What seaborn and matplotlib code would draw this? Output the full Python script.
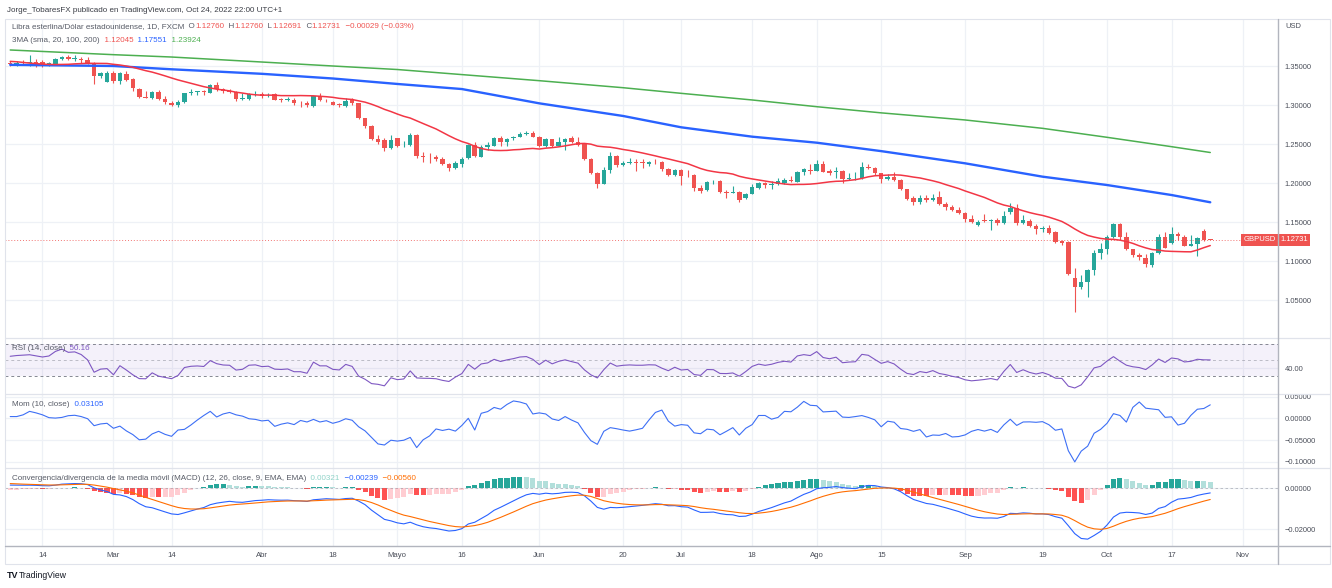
import numpy as np
import pandas as pd
import seaborn as sns
import matplotlib.pyplot as plt
from matplotlib.lines import Line2D
from matplotlib.patches import Rectangle
from matplotlib.text import Annotation

# GBPUSD, 1D, FXCM - one bar per weekday, first bar Feb 7 2022, last bar Oct 25 2022
first_day = "2022-02-07"

# closes before the visible window (Dec 20 2021 - Feb 4 2022), only to warm up the indicators
warmup_close = [
    1.3215, 1.3245, 1.3275, 1.3400, 1.3405,
    1.3435, 1.3445, 1.3495, 1.3505, 1.3530,
    1.3480, 1.3535, 1.3545, 1.3545, 1.3590,
    1.3595, 1.3635, 1.3710, 1.3715, 1.3675,
    1.3645, 1.3610, 1.3620, 1.3595, 1.3550,
    1.3485, 1.3495, 1.3460, 1.3385, 1.3410,
    1.3445, 1.3520, 1.3580, 1.3595, 1.3530,
]

# one row per week (Mon..Fri)
open_px = [
    1.3540, 1.3525, 1.3545, 1.3540, 1.3555,  # Feb 7
    1.3545, 1.3525, 1.3530, 1.3585, 1.3620,  # Feb 14
    1.3590, 1.3590, 1.3575, 1.3530, 1.3375,  # Feb 21
    1.3300, 1.3410, 1.3305, 1.3400, 1.3330,  # Feb 28
    1.3200, 1.3100, 1.3090, 1.3170, 1.3075,  # Mar 7
    1.3030, 1.2995, 1.3035, 1.3150, 1.3165,  # Mar 14
    1.3175, 1.3160, 1.3255, 1.3200, 1.3180,  # Mar 21
    1.3170, 1.3075, 1.3080, 1.3140, 1.3140,  # Mar 28
    1.3115, 1.3145, 1.3070, 1.3065, 1.3070,  # Apr 4
    1.3030, 1.3030, 1.2985, 1.3115, 1.3065,  # Apr 11
    1.3045, 1.3010, 1.2990, 1.3075, 1.3020,  # Apr 18
    1.2835, 1.2730, 1.2560, 1.2550, 1.2445,  # Apr 25
    1.2575, 1.2485, 1.2490, 1.2615, 1.2345,  # May 2
    1.2340, 1.2330, 1.2310, 1.2245, 1.2195,  # May 9
    1.2245, 1.2320, 1.2490, 1.2340, 1.2460,  # May 16
    1.2475, 1.2580, 1.2525, 1.2575, 1.2595,  # May 23
    1.2635, 1.2637, 1.2595, 1.2470, 1.2565,  # May 30
    1.2475, 1.2525, 1.2575, 1.2530, 1.2500,  # Jun 6
    1.2310, 1.2130, 1.1990, 1.2170, 1.2350,  # Jun 13
    1.2235, 1.2255, 1.2270, 1.2265, 1.2245,  # Jun 20
    1.2275, 1.2265, 1.2180, 1.2105, 1.2170,  # Jun 27
    1.2105, 1.2105, 1.1935, 1.1910, 1.2000,  # Jul 4
    1.2030, 1.1885, 1.1880, 1.1890, 1.1805,  # Jul 11
    1.1860, 1.1942, 1.2000, 1.1970, 1.1985,  # Jul 18
    1.2000, 1.2045, 1.2018, 1.2147, 1.2170,  # Jul 25
    1.2160, 1.2245, 1.2160, 1.2140, 1.2155,  # Aug 1
    1.2055, 1.2065, 1.2062, 1.2210, 1.2195,  # Aug 8
    1.2125, 1.2050, 1.2085, 1.2035, 1.1920,  # Aug 15
    1.1810, 1.1765, 1.1810, 1.1780, 1.1827,  # Aug 22
    1.1730, 1.1700, 1.1650, 1.1614, 1.1537,  # Aug 29
    1.1464, 1.1525, 1.1515, 1.1525, 1.1495,  # Sep 5
    1.1627, 1.1678, 1.1485, 1.1520, 1.1455,  # Sep 12
    1.1417, 1.1430, 1.1380, 1.1255, 1.1250,  # Sep 19
    1.0790, 1.0674, 1.0730, 1.0888, 1.1110,  # Sep 26
    1.1153, 1.1315, 1.1473, 1.1315, 1.1153,  # Oct 3
    1.1080, 1.1046, 1.0952, 1.1102, 1.1307,  # Oct 10
    1.1230, 1.1349, 1.1315, 1.1200, 1.1222,  # Oct 17
    1.1391, 1.12760,                         # Oct 24
]
high_px = [
    1.3560, 1.3560, 1.3575, 1.3640, 1.3590,
    1.3575, 1.3545, 1.3600, 1.3625, 1.3645,
    1.3645, 1.3610, 1.3610, 1.3545, 1.3425,
    1.3440, 1.3440, 1.3425, 1.3435, 1.3345,
    1.3215, 1.3185, 1.3185, 1.3190, 1.3115,
    1.3055, 1.3060, 1.3160, 1.3210, 1.3185,
    1.3195, 1.3265, 1.3295, 1.3220, 1.3200,
    1.3180, 1.3150, 1.3150, 1.3175, 1.3165,
    1.3150, 1.3155, 1.3085, 1.3100, 1.3085,
    1.3055, 1.3055, 1.3120, 1.3150, 1.3080,
    1.3050, 1.3030, 1.3090, 1.3090, 1.3030,
    1.2840, 1.2745, 1.2620, 1.2580, 1.2615,
    1.2580, 1.2540, 1.2640, 1.2635, 1.2405,
    1.2380, 1.2365, 1.2335, 1.2260, 1.2285,
    1.2335, 1.2500, 1.2525, 1.2485, 1.2525,
    1.2595, 1.2600, 1.2580, 1.2610, 1.2655,
    1.2665, 1.2665, 1.2600, 1.2580, 1.2570,
    1.2590, 1.2580, 1.2600, 1.2585, 1.2505,
    1.2320, 1.2140, 1.2205, 1.2405, 1.2365,
    1.2290, 1.2325, 1.2315, 1.2310, 1.2290,
    1.2310, 1.2290, 1.2190, 1.2180, 1.2180,
    1.2165, 1.2115, 1.1970, 1.2030, 1.2045,
    1.2035, 1.1915, 1.1965, 1.1895, 1.1875,
    1.1990, 1.2020, 1.2015, 1.2025, 1.2065,
    1.2065, 1.2095, 1.2160, 1.2190, 1.2245,
    1.2295, 1.2290, 1.2180, 1.2205, 1.2165,
    1.2125, 1.2145, 1.2275, 1.2250, 1.2205,
    1.2130, 1.2115, 1.2145, 1.2055, 1.1925,
    1.1830, 1.1845, 1.1845, 1.1855, 1.1900,
    1.1760, 1.1720, 1.1690, 1.1625, 1.1590,
    1.1530, 1.1610, 1.1540, 1.1560, 1.1645,
    1.1740, 1.1738, 1.1590, 1.1545, 1.1475,
    1.1450, 1.1460, 1.1385, 1.1275, 1.1255,
    1.0915, 1.0825, 1.0895, 1.1140, 1.1235,
    1.1330, 1.1495, 1.1490, 1.1370, 1.1160,
    1.1110, 1.1090, 1.1120, 1.1345, 1.1380,
    1.1440, 1.1380, 1.1335, 1.1335, 1.1305,
    1.1410, 1.12760,
]
low_px = [
    1.3500, 1.3500, 1.3520, 1.3505, 1.3490,
    1.3490, 1.3500, 1.3515, 1.3575, 1.3580,
    1.3565, 1.3540, 1.3520, 1.3275, 1.3350,
    1.3290, 1.3280, 1.3275, 1.3310, 1.3185,
    1.3085, 1.3085, 1.3080, 1.3060, 1.3010,
    1.2985, 1.2980, 1.3020, 1.3125, 1.3135,
    1.3130, 1.3150, 1.3185, 1.3160, 1.3155,
    1.3050, 1.3070, 1.3070, 1.3120, 1.3095,
    1.3100, 1.3060, 1.3045, 1.3050, 1.3005,
    1.2980, 1.2975, 1.2975, 1.3050, 1.3040,
    1.2995, 1.2970, 1.2980, 1.3005, 1.2825,
    1.2705, 1.2555, 1.2505, 1.2410, 1.2440,
    1.2460, 1.2460, 1.2475, 1.2325, 1.2275,
    1.2260, 1.2290, 1.2230, 1.2155, 1.2185,
    1.2210, 1.2305, 1.2335, 1.2330, 1.2420,
    1.2470, 1.2470, 1.2480, 1.2550, 1.2590,
    1.2620, 1.2585, 1.2460, 1.2460, 1.2465,
    1.2470, 1.2430, 1.2510, 1.2480, 1.2300,
    1.2120, 1.1935, 1.1985, 1.2125, 1.2210,
    1.2215, 1.2240, 1.2160, 1.2200, 1.2225,
    1.2245, 1.2160, 1.2095, 1.2090, 1.1975,
    1.2085, 1.1900, 1.1875, 1.1905, 1.1990,
    1.1870, 1.1810, 1.1875, 1.1760, 1.1800,
    1.1855, 1.1930, 1.1935, 1.1920, 1.1975,
    1.1990, 1.2010, 1.2010, 1.2110, 1.2120,
    1.2155, 1.2140, 1.2110, 1.2065, 1.2005,
    1.2040, 1.2040, 1.2055, 1.2180, 1.2110,
    1.2005, 1.2040, 1.2030, 1.1915, 1.1785,
    1.1715, 1.1735, 1.1765, 1.1775, 1.1725,
    1.1650, 1.1645, 1.1600, 1.1500, 1.1490,
    1.1445, 1.1500, 1.1405, 1.1460, 1.1480,
    1.1600, 1.1470, 1.1480, 1.1440, 1.1350,
    1.1380, 1.1355, 1.1235, 1.1210, 1.0830,
    1.0350, 1.0650, 1.0540, 1.0830, 1.1025,
    1.1090, 1.1300, 1.1275, 1.1145, 1.1055,
    1.1020, 1.0925, 1.0925, 1.1095, 1.1165,
    1.1225, 1.1275, 1.1195, 1.1195, 1.1065,
    1.1258, 1.12691,
]
close_px = [
    1.3525, 1.3535, 1.3540, 1.3545, 1.3535,
    1.3525, 1.3535, 1.3585, 1.3615, 1.3590,
    1.3595, 1.3575, 1.3530, 1.3375, 1.3405,
    1.3410, 1.3305, 1.3405, 1.3325, 1.3215,
    1.3100, 1.3095, 1.3170, 1.3075, 1.3035,
    1.2995, 1.3035, 1.3150, 1.3170, 1.3175,
    1.3165, 1.3255, 1.3200, 1.3175, 1.3170,
    1.3075, 1.3085, 1.3140, 1.3145, 1.3115,
    1.3120, 1.3070, 1.3065, 1.3070, 1.3025,
    1.3025, 1.3000, 1.3115, 1.3060, 1.3060,
    1.3005, 1.2995, 1.3055, 1.3025, 1.2830,
    1.2735, 1.2560, 1.2525, 1.2445, 1.2555,
    1.2480, 1.2490, 1.2615, 1.2350, 1.2335,
    1.2330, 1.2315, 1.2245, 1.2195, 1.2260,
    1.2315, 1.2490, 1.2345, 1.2465, 1.2490,
    1.2580, 1.2525, 1.2565, 1.2595, 1.2635,
    1.2645, 1.2590, 1.2470, 1.2565, 1.2475,
    1.2530, 1.2565, 1.2525, 1.2490, 1.2310,
    1.2130, 1.1990, 1.2170, 1.2350, 1.2235,
    1.2260, 1.2270, 1.2260, 1.2260, 1.2270,
    1.2265, 1.2180, 1.2105, 1.2170, 1.2090,
    1.2100, 1.1935, 1.1905, 1.2010, 1.2005,
    1.1885, 1.1880, 1.1890, 1.1785, 1.1860,
    1.1955, 1.2000, 1.1970, 1.1990, 1.2025,
    1.2045, 1.2030, 1.2147, 1.2175, 1.2160,
    1.2245, 1.2147, 1.2125, 1.2155, 1.2053,
    1.2065, 1.2070, 1.2210, 1.2195, 1.2125,
    1.2050, 1.2080, 1.2035, 1.1920, 1.1800,
    1.1765, 1.1810, 1.1780, 1.1810, 1.1733,
    1.1700, 1.1650, 1.1615, 1.1537, 1.1500,
    1.1507, 1.1515, 1.1525, 1.1485, 1.1580,
    1.1678, 1.1486, 1.1530, 1.1455, 1.1408,
    1.1430, 1.1366, 1.1250, 1.1240, 1.0833,
    1.0674, 1.0730, 1.0888, 1.1110, 1.1153,
    1.1315, 1.1473, 1.1315, 1.1153, 1.1085,
    1.1050, 1.0963, 1.1102, 1.1307, 1.1175,
    1.1349, 1.1317, 1.1200, 1.1222, 1.1294,
    1.1276, 1.12731,
]

# SMA 100 / SMA 200 (they need a year of history before the window)
ma_dates = ["2022-02-07", "2022-03-01", "2022-03-14", "2022-04-01", "2022-04-18",
            "2022-05-02", "2022-05-16", "2022-06-01", "2022-06-20", "2022-07-01",
            "2022-07-18", "2022-08-01", "2022-08-15", "2022-09-01", "2022-09-19",
            "2022-10-03", "2022-10-17", "2022-10-25"]
sma100_read = [1.3515, 1.3500, 1.3458, 1.3400, 1.3340, 1.3270, 1.3205, 1.3022, 1.2860,
               1.2715, 1.2595, 1.2518, 1.2410, 1.2254, 1.2083, 1.1976, 1.1848, 1.17551]
sma200_read = [1.3705, 1.3645, 1.3615, 1.3551, 1.3500, 1.3455, 1.3390, 1.3312, 1.3222,
               1.3150, 1.3065, 1.2979, 1.2900, 1.2809, 1.2702, 1.2587, 1.2467, 1.23924]

tick_dates = ["2022-02-14", "2022-03-01", "2022-03-14", "2022-04-01", "2022-04-18",
              "2022-05-02", "2022-05-16", "2022-06-01", "2022-06-20", "2022-07-01",
              "2022-07-18", "2022-08-01", "2022-08-15", "2022-09-01", "2022-09-19",
              "2022-10-03", "2022-10-17", "2022-11-01"]
tick_labels = ["14", "Mar", "14", "Abr", "18", "Mayo", "16", "Jun", "20", "Jul",
               "18", "Ago", "15", "Sep", "19", "Oct", "17", "Nov"]
price_ticks = [1.05, 1.10, 1.15, 1.20, 1.25, 1.30, 1.35]
mom_ticks = [0.05, 0.0, -0.05, -0.10]
macd_ticks = [0.0, -0.02]
last_price = 1.12731

UP, DOWN = "#26a69a", "#ef5350"
GRAY_TXT = "#575b66"
AX_TXT = "#4a4e59"
GRID = "#eef1f6"
SEP = "#e0e3eb"

sns.set_theme(style="white")
plt.rcParams["font.family"] = ["Liberation Sans", "DejaVu Sans"]
plt.rcParams["axes.unicode_minus"] = True

days = pd.bdate_range(first_day, "2022-12-30")


def pos(d):
    return days.get_loc(pd.Timestamp(d))


n = len(close_px)
idx = np.arange(n)
o, h, l, c = map(np.array, (open_px, high_px, low_px, close_px))

# indicators from the closes
closes = pd.Series(warmup_close + close_px)
nw = len(warmup_close)
sma20 = closes.rolling(20).mean().to_numpy()[nw:]
chg = closes.diff()
gain = chg.clip(lower=0).ewm(alpha=1 / 14, adjust=False).mean()
loss = (-chg.clip(upper=0)).ewm(alpha=1 / 14, adjust=False).mean()
rsi = (100 - 100 / (1 + gain / loss)).to_numpy()[nw:]
mom = (closes - closes.shift(10)).to_numpy()[nw:]
macd_all = closes.ewm(span=12, adjust=False).mean() - closes.ewm(span=26, adjust=False).mean()
signal_all = macd_all.ewm(span=9, adjust=False).mean()
hist_all = macd_all - signal_all
macd = macd_all.to_numpy()[nw:]
signal = signal_all.to_numpy()[nw:]
hist = hist_all.to_numpy()[nw:]
prev_hist = hist_all.shift(1).to_numpy()[nw:]

W, H = 1332, 588
fig = plt.figure(figsize=(W / 100, H / 100), dpi=100)
fig.patch.set_facecolor("white")


def rect(x0, y0, x1, y1):
    return [x0 / W, 1 - y1 / H, (x1 - x0) / W, (y1 - y0) / H]


ax_p = fig.add_axes(rect(5, 19, 1278, 338))
ax_r = fig.add_axes(rect(5, 338, 1278, 394), sharex=ax_p)
ax_m = fig.add_axes(rect(5, 394, 1278, 468), sharex=ax_p)
ax_d = fig.add_axes(rect(5, 468, 1278, 546), sharex=ax_p)

tick_pos = [pos(d) for d in tick_dates]
for ax in (ax_p, ax_r, ax_m, ax_d):
    ax.set_facecolor("white")
    for sp in ax.spines.values():
        sp.set_visible(False)
    ax.yaxis.tick_right()
    ax.tick_params(axis="y", length=0, pad=4.6, labelsize=5.4, labelcolor=AX_TXT)
    ax.tick_params(axis="x", length=0, labelbottom=False)
    ax.grid(True, color=GRID, lw=0.9)
    ax.set_axisbelow(True)
ax_d.set_xticks(tick_pos, tick_labels)
ax_d.tick_params(axis="x", labelbottom=True, pad=4, labelsize=5.6, labelcolor=AX_TXT)
ax_p.set_xlim(-0.81, 196.5)

# ---- price panel ----
cols = np.where(c >= o, UP, DOWN)
ax_p.vlines(idx, l, h, colors=cols, lw=0.8)
body_lo = np.minimum(o, c)
body_h = np.maximum(np.abs(c - o), 0.0007)
ax_p.bar(idx, body_h, bottom=body_lo, width=0.7, color=cols, linewidth=0)

ma_idx = [pos(d) for d in ma_dates]
sns.lineplot(x=ma_idx, y=sma200_read, ax=ax_p, color="#4caf50", linewidth=1.1)
sns.lineplot(x=ma_idx, y=sma100_read, ax=ax_p, color="#2962ff", linewidth=1.7)
sns.lineplot(x=idx, y=sma20, ax=ax_p, color="#f23645", linewidth=1.1)
ax_p.axhline(last_price, color=DOWN, lw=0.7, ls=(0, (1, 2)), alpha=0.8)
ax_p.set_ylim(1.00173, 1.41018)
ax_p.set_yticks(price_ticks, [f"{v:.5f}" for v in price_ticks])

box = dict(boxstyle="square,pad=0.3", fc=DOWN, ec="none")
ax_p.annotate("GBPUSD", xy=(1, last_price), xycoords=("axes fraction", "data"),
              xytext=(-1.8, 0), textcoords="offset points", ha="right", va="center",
              fontsize=5.5, color="white", bbox=box, annotation_clip=False)
ax_p.annotate("1.12731", xy=(1, last_price), xycoords=("axes fraction", "data"),
              xytext=(1.8, 0), textcoords="offset points", ha="left", va="center",
              fontsize=5.5, color="white", bbox=box, annotation_clip=False)

# ---- RSI ----
ax_r.axhspan(30, 70, color="#7e57c2", alpha=0.08, lw=0)
for lvl, a in ((70, 0.9), (50, 0.45), (30, 0.9)):
    ax_r.axhline(lvl, color="#787b86", lw=0.7, ls=(0, (3, 3)), alpha=a)
sns.lineplot(x=idx, y=rsi, ax=ax_r, color="#7e57c2", linewidth=0.8)
ax_r.set_ylim(8.1, 77.5)
ax_r.set_yticks([40], ["40.00"])

# ---- Momentum ----
sns.lineplot(x=idx, y=mom, ax=ax_m, color="#3d6ff5", linewidth=0.8)
ax_m.set_ylim(-0.1145, 0.056)
ax_m.set_yticks(mom_ticks, [f"{v:.5f}".replace("-", "\u2212") for v in mom_ticks])

# ---- MACD ----
hist_cols = [(UP if hv >= pv else "#b2dfdb") if hv >= 0 else ("#ffcdd2" if hv > pv else "#ff5252")
             for hv, pv in zip(hist, prev_hist)]
ax_d.bar(idx, hist, width=0.78, color=hist_cols, linewidth=0)
ax_d.axhline(0, color="#787b86", lw=0.6, ls=(0, (3, 3)), alpha=0.5)
sns.lineplot(x=idx, y=macd, ax=ax_d, color="#2962ff", linewidth=0.8)
sns.lineplot(x=idx, y=signal, ax=ax_d, color="#ff6d00", linewidth=0.8)
ax_d.set_ylim(-0.02835, 0.00998)
ax_d.set_yticks(macd_ticks, [f"{v:.5f}".replace("-", "\u2212") for v in macd_ticks])

for ax in (ax_p, ax_r, ax_m, ax_d):
    ax.set_xlabel("")
    ax.set_ylabel("")


# ---- frame lines ----
def fig_line(x0, y0, x1, y1, color, lw):
    fig.add_artist(Line2D([x0 / W, x1 / W], [1 - y0 / H, 1 - y1 / H],
                          transform=fig.transFigure, color=color, lw=lw))


fig.add_artist(Rectangle((5 / W, 1 - 564 / H), 1325 / W, 545 / H, transform=fig.transFigure,
                         fill=False, ec=SEP, lw=0.8))
for yy in (338, 394, 468):
    fig_line(5, yy, 1330, yy, SEP, 0.9)
fig_line(5, 546, 1330, 546, "#b2b5be", 1.0)
fig_line(1278, 19, 1278, 564, "#b2b5be", 1.0)


# ---- texts (figure level, so they sit above every panel) ----
def write_parts(x, y, parts, size=5.8):
    t = fig.text(x / W, 1 - y / H, parts[0][0], color=parts[0][1], fontsize=size,
                 ha="left", va="center", zorder=10)
    for s, col in parts[1:]:
        t = fig.add_artist(Annotation(s, xy=(1, 0.5), xycoords=t, ha="left", va="center",
                                      color=col, fontsize=size, zorder=10))


fig.text(7 / W, 1 - 10 / H, "Jorge_TobaresFX publicado en TradingView.com, Oct 24, 2022 22:00 UTC+1",
         fontsize=5.8, color="#3a3d45", ha="left", va="center")
red, blue = "#ef5350", "#2962ff"
write_parts(12, 27, [("Libra esterlina/Dólar estadounidense, 1D, FXCM", GRAY_TXT),
                     ("  O", GRAY_TXT), ("1.12760", red), ("  H", GRAY_TXT), ("1.12760", red),
                     ("  L", GRAY_TXT), ("1.12691", red), ("  C", GRAY_TXT), ("1.12731", red),
                     ("  \u22120.00029 (\u22120.03%)", red)])
write_parts(12, 40, [("3MA (sma, 20, 100, 200)", GRAY_TXT), ("  1.12045", red),
                     ("  1.17551", blue), ("  1.23924", "#4caf50")])
write_parts(12, 349, [("RSI (14, close)", GRAY_TXT), ("  50.16", "#7e57c2")])
write_parts(12, 404, [("Mom (10, close)", GRAY_TXT), ("  0.03105", blue)])
write_parts(12, 479, [("Convergencia/divergencia de la media móvil (MACD) (12, 26, close, 9, EMA, EMA)", GRAY_TXT),
                      ("  0.00321", "#8fd3c8"), ("  \u22120.00239", blue), ("  \u22120.00560", "#ff6d00")])
fig.text(1285 / W, 1 - 27 / H, "USD", fontsize=5.4, color=AX_TXT, ha="left", va="center")
fig.text(7 / W, 1 - 576 / H, "TV", fontsize=6.5, fontweight="bold", color="#131722", ha="left", va="center")
fig.text(19 / W, 1 - 576 / H, "TradingView", fontsize=6.2, color="#131722", ha="left", va="center")

fig.savefig("out.png", dpi=100)
